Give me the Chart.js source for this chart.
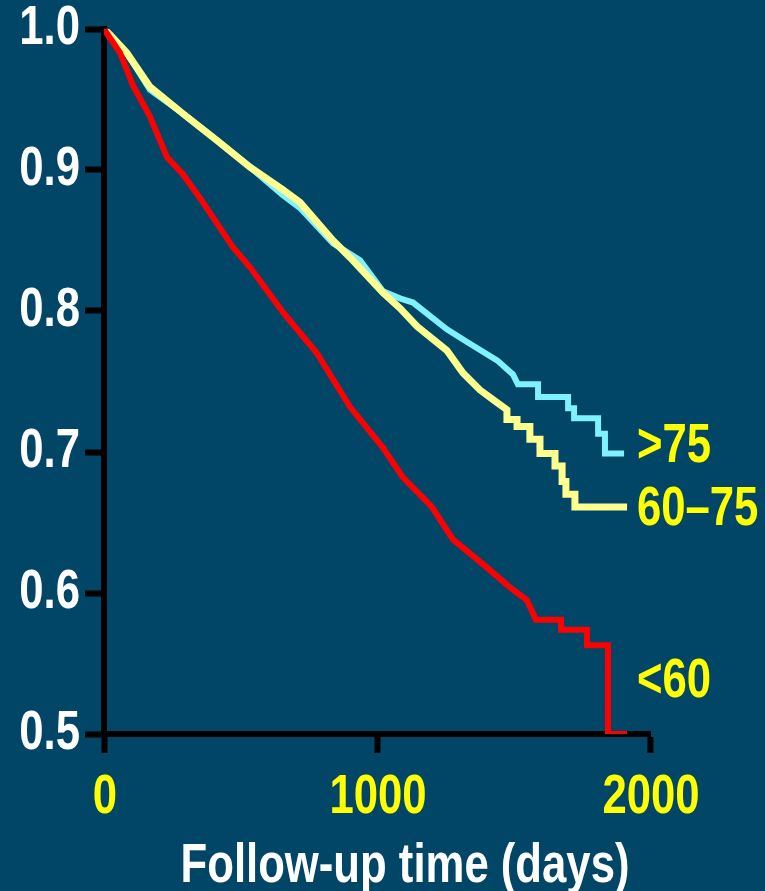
<!DOCTYPE html>
<html>
<head>
<meta charset="utf-8">
<title>Survival by age group</title>
<script src="https://cdn.jsdelivr.net/npm/chart.js@4.4.1/dist/chart.umd.min.js"></script>
<style>
  body { margin: 0; background: #014667; }
  canvas { display: block; }
</style>
</head>
<body>
<canvas id="kmChart" width="765" height="891"></canvas>
<script>
// age groups, in the order the labels sit on the right
const groups = ['<60', '60–75', '>75'];

// <60 (red)
const daysUnder60 = [0, 59, 106, 168, 231, 289, 352, 473, 535, 656, 780, 901, 1022, 1095, 1201, 1278, 1403, 1487, 1549,
  1582, 1674, 1674, 1769, 1769, 1846, 1846, 1916];
const survUnder60 = [1.0, 0.983, 0.960, 0.938, 0.909, 0.897, 0.880, 0.845, 0.831, 0.799, 0.770, 0.732, 0.703, 0.682, 0.661, 0.638, 0.618, 0.604, 0.595,
  0.581, 0.581, 0.574, 0.574, 0.563, 0.563, 0.500, 0.500];

// 60-75 (yellow)
const days60to75 = [0, 22, 84, 168, 289, 414, 535, 656, 718, 839, 901, 1022, 1084, 1147, 1256, 1315, 1377, 1440,
  1476, 1476, 1513, 1513, 1560, 1560, 1597, 1597, 1652, 1652, 1678, 1678, 1692, 1692, 1725, 1725, 1916];
const surv60to75 = [1.0, 0.996, 0.983, 0.959, 0.940, 0.921, 0.902, 0.886, 0.877, 0.850, 0.838, 0.813, 0.802, 0.789, 0.772, 0.756, 0.744, 0.735,
  0.730, 0.723, 0.723, 0.718, 0.718, 0.709, 0.709, 0.699, 0.699, 0.690, 0.690, 0.679, 0.679, 0.670, 0.670, 0.661, 0.661];

// >75 (cyan)
const daysOver75 = [0, 22, 84, 168, 289, 414, 535, 656, 718, 839, 938, 1022, 1084, 1132, 1256, 1330, 1440, 1498,
  1516, 1590, 1590, 1700, 1700, 1722, 1722, 1810, 1810, 1835, 1835, 1905];
const survOver75 = [1.0, 0.996, 0.983, 0.957, 0.940, 0.921, 0.902, 0.882, 0.873, 0.848, 0.836, 0.814, 0.809, 0.806, 0.787, 0.778, 0.765, 0.755,
  0.748, 0.748, 0.739, 0.739, 0.731, 0.731, 0.724, 0.724, 0.713, 0.713, 0.699, 0.699];

const xTicks = [0, 1000, 2000];
const yTicks = [0.5, 0.6, 0.7, 0.8, 0.9, 1.0];

const fontFace = '"Liberation Sans", Arial, sans-serif';

function toPoints(days, surv) {
  return days.map((d, i) => ({ x: d, y: surv[i] }));
}

// no narrow font installed, so squeeze the bold sans sideways
function narrowText(ctx, text, x, y, align, baseline) {
  ctx.save();
  ctx.translate(x, y);
  ctx.scale(0.78, 1);
  ctx.textAlign = align;
  ctx.textBaseline = baseline;
  ctx.fillText(text, 0, 0);
  ctx.restore();
}

// tick labels, axis title and group labels
const extraText = {
  id: 'extraText',
  afterDraw(chart) {
    const ctx = chart.ctx;
    const xs = chart.scales.x, ys = chart.scales.y;
    ctx.save();
    ctx.font = 'bold 56px ' + fontFace;

    ctx.fillStyle = '#ffffff';
    yTicks.forEach(v => narrowText(ctx, v.toFixed(1), 80, ys.getPixelForValue(v), 'right', 'middle'));
    narrowText(ctx, 'Follow-up time (days)', 405, 882, 'center', 'alphabetic');

    ctx.fillStyle = '#ffff00';
    xTicks.forEach(v => narrowText(ctx, String(v), xs.getPixelForValue(v) + 1, 813, 'center', 'alphabetic'));

    const labelY = [0.537, 0.659, 0.704];
    groups.forEach((g, i) => {
      narrowText(ctx, g, xs.getPixelForValue(1952), ys.getPixelForValue(labelY[i]), 'left', 'middle');
    });
    ctx.restore();
  }
};

const myChart = document.getElementById('kmChart');

let kmChart = new Chart(myChart, {
  type: 'line',
  data: {
    datasets: [
      {
        label: groups[0],
        data: toPoints(daysUnder60, survUnder60),
        borderColor: '#ff0000',
        borderWidth: 6,
        order: 0
      },
      {
        label: groups[1],
        data: toPoints(days60to75, surv60to75),
        borderColor: '#ffff90',
        borderWidth: 7,
        order: 1
      },
      {
        label: groups[2],
        data: toPoints(daysOver75, survOver75),
        borderColor: '#80f2ff',
        borderWidth: 6,
        order: 2
      }
    ]
  },
  options: {
    responsive: false,
    animation: false,
    events: [],
    elements: {
      point: { radius: 0 },
      line: { tension: 0, borderJoinStyle: 'miter', borderCapStyle: 'butt' }
    },
    layout: { padding: { left: 0, right: 115, top: 29, bottom: 0 } },
    plugins: {
      legend: { display: false },
      tooltip: { enabled: false }
    },
    scales: {
      x: {
        type: 'linear',
        min: 0,
        max: 2000,
        afterBuildTicks: s => { s.ticks = xTicks.map(v => ({ value: v })); },
        afterFit: s => { s.height = 157; },
        border: { display: true, color: '#000000', width: 6 },
        grid: { drawOnChartArea: false, drawTicks: true, tickLength: 19, tickWidth: 6, tickColor: '#000000' },
        ticks: { display: false }
      },
      y: {
        min: 0.5,
        max: 1.0,
        afterBuildTicks: s => { s.ticks = yTicks.map(v => ({ value: v })); },
        afterFit: s => { s.width = 104; },
        border: { display: true, color: '#000000', width: 6 },
        grid: { drawOnChartArea: false, drawTicks: true, tickLength: 19, tickWidth: 6, tickColor: '#000000' },
        ticks: { display: false }
      }
    }
  },
  plugins: [extraText]
});
</script>
</body>
</html>
